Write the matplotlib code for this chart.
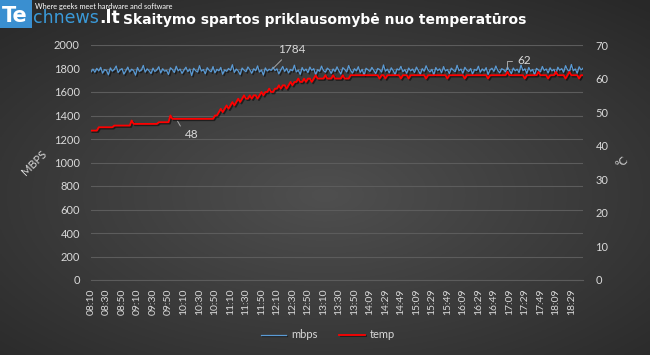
import numpy as np
import matplotlib
matplotlib.use("Agg")
import matplotlib.pyplot as plt
import matplotlib.patheffects as pe
from matplotlib.patches import Rectangle

# ── data ─────────────────────────────────────────────────────────────────────
time_labels = ["08:10", "08:30", "08:50", "09:10", "09:30", "09:50", "10:10", "10:30",
               "10:50", "11:10", "11:30", "11:50", "12:10", "12:30", "12:50", "13:10",
               "13:30", "13:50", "14:09", "14:29", "14:49", "15:09", "15:29", "15:49",
               "16:09", "16:29", "16:49", "17:09", "17:29", "17:49", "18:09", "18:29"]
points_per_label = 8

mbps = [
    1772, 1795, 1768, 1801, 1779, 1810, 1760, 1790, 1783, 1746, 1805, 1777, 1792, 1821, 1765, 1788,
    1799, 1752, 1783, 1812, 1770, 1794, 1781, 1743, 1808, 1775, 1786, 1826, 1769, 1797, 1780, 1757,
    1803, 1774, 1789, 1815, 1762, 1798, 1777, 1784, 1749, 1806, 1791, 1766, 1819, 1780, 1795, 1758,
    1787, 1811, 1773, 1796, 1740, 1802, 1782, 1769, 1824, 1778, 1791, 1755, 1807, 1785, 1771, 1816,
    1763, 1793, 1780, 1809, 1751, 1788, 1776, 1800, 1784, 1832, 1767, 1795, 1779, 1748, 1804, 1786,
    1772, 1813, 1790, 1759, 1798, 1781, 1822, 1770, 1787, 1744, 1805, 1778, 1794, 1784, 1811, 1783,
    1797, 1754, 1789, 1817, 1775, 1801, 1762, 1792, 1780, 1828, 1771, 1786, 1750, 1808, 1779, 1795,
    1765, 1812, 1784, 1799, 1747, 1790, 1776, 1820, 1783, 1768, 1803, 1789, 1758, 1796, 1774, 1814,
    1781, 1752, 1807, 1792, 1770, 1825, 1785, 1761, 1798, 1779, 1815, 1767, 1793, 1742, 1802, 1788,
    1775, 1809, 1784, 1756, 1800, 1791, 1769, 1830, 1777, 1794, 1763, 1806, 1782, 1748, 1797, 1786,
    1818, 1773, 1790, 1759, 1804, 1780, 1795, 1766, 1812, 1784, 1751, 1799, 1776, 1823, 1788, 1770,
    1793, 1745, 1808, 1782, 1797, 1764, 1816, 1779, 1791, 1757, 1803, 1786, 1772, 1827, 1781, 1795,
    1760, 1810, 1787, 1774, 1800, 1753, 1792, 1783, 1819, 1768, 1796, 1778, 1807, 1749, 1789, 1802,
    1775, 1821, 1784, 1763, 1798, 1790, 1771, 1813, 1786, 1755, 1804, 1780, 1794, 1766, 1829, 1782,
    1797, 1758, 1809, 1776, 1792, 1745, 1801, 1787, 1770, 1817, 1783, 1796, 1762, 1806, 1779, 1793,
    1752, 1811, 1785, 1799, 1768, 1824, 1789, 1774, 1834, 1781, 1796, 1760, 1815, 1787, 1803,
]

temp = (
    [44.5] * 4 + [45.5] * 8 + [46] * 9
    + [47.5] + [46.5] * 13 + [47] * 6 + [49] + [48] * 22
    + [49, 49, 50, 51, 50, 51, 52, 51,
       52, 53, 52, 53, 54, 53, 54, 55,
       54, 54, 55, 54, 55, 55, 54, 55,
       56, 55, 56, 56, 57, 56, 56, 57,
       57, 58, 57, 58, 58, 57, 58, 59,
       58, 59, 59, 60, 59, 59, 60, 59,
       60, 60, 59, 60, 61, 60, 60, 60,
       60, 61, 60, 60, 60, 61, 60, 60,
       60, 60, 61, 60, 60, 60, 61, 61]
    + [61, 61, 61, 61, 61, 61, 61, 61, 61, 61, 61, 61, 61, 60, 61, 61, 60,
       61, 61, 61, 61, 61, 61, 61, 60, 61, 61, 61, 60, 61, 61, 61, 61, 61,
       61, 61, 61, 60, 61, 61, 61, 61, 61, 61, 61, 61, 61, 61, 60, 61, 61,
       61, 61, 61, 61, 61, 61, 60, 61, 61, 61, 61, 61, 61, 61, 61, 61, 61,
       61, 60, 61, 61, 61, 61, 61, 61, 61, 61, 61, 62, 61, 61, 61, 61, 61,
       61, 61, 61, 60, 61, 61, 61, 61, 61, 61, 62, 61, 61, 61, 61, 60, 61,
       61, 61, 62, 61, 61, 61, 61, 60, 61, 62, 61, 61, 61, 61, 60, 61, 61]
)
assert len(mbps) == len(temp), (len(mbps), len(temp))

mbps_label_idx = 93
temp_label_idx = [44, 215]

# ── style ─────────────────────────────────────────────────────────────────────
plt.rcParams["font.family"] = ["Lato", "DejaVu Sans"]
txt = "#d9d9d9"
grid_col = "#5c5c5c"
blue = "#5b9bd5"
red = "#ff0000"
W, H = 650, 355

fig = plt.figure(figsize=(6.5, 3.55), dpi=100)

# dark radial-ish background
bg = fig.add_axes([0, 0, 1, 1], zorder=-10)
gx, gy = np.meshgrid(np.linspace(0, 1, 300), np.linspace(0, 1, 200))
r = np.sqrt(((gx - 0.5) / 0.75) ** 2 + ((gy - 0.45) / 0.7) ** 2)
shade = np.clip(0.31 - 0.15 * r, 0.16, 0.31)
bg.imshow(np.dstack([shade] * 3), extent=[0, 1, 0, 1], aspect="auto", origin="lower")
bg.set_axis_off()

ax = fig.add_axes([91 / W, 1 - 280 / H, (583 - 91) / W, (280 - 45) / H])
ax.patch.set_alpha(0)
ax2 = ax.twinx()

x = np.arange(len(mbps))
shadow = [pe.SimpleLineShadow(offset=(1, -1), shadow_color="black", alpha=0.5), pe.Normal()]
l1, = ax.plot(x, mbps, color=blue, lw=0.9, path_effects=shadow, label="mbps")
l2, = ax2.plot(x, temp, color=red, lw=1.3, path_effects=shadow, label="temp")

ax.set_xlim(0, len(mbps) - 1)
ax.set_ylim(0, 2000)
ax.set_yticks(range(0, 2001, 200))
ax2.set_ylim(0, 70)
ax2.set_yticks(range(0, 71, 10))
ax.set_xticks(np.arange(len(time_labels)) * points_per_label)
ax.set_xticklabels(time_labels, rotation=90)

ax.grid(axis="y", color=grid_col, lw=0.8)
ax.set_axisbelow(True)
for a in (ax, ax2):
    for s in a.spines.values():
        s.set_visible(False)
ax.spines["bottom"].set_visible(True)
ax.spines["bottom"].set_color(grid_col)

ax.tick_params(axis="x", length=0, pad=6, labelsize=7.5, labelcolor=txt)
ax.tick_params(axis="y", length=0, pad=8, labelsize=8, labelcolor=txt)
ax2.tick_params(axis="y", length=0, pad=9, labelsize=8, labelcolor=txt)

# axis titles (rotated like the original)
fig.text(34 / W, 1 - 163 / H, "MBPS", rotation=45, ha="center", va="center",
         color=txt, fontsize=8)
fig.text(622 / W, 1 - 162 / H, "°C", rotation=45, ha="center", va="center",
         color=txt, fontsize=8)

# data labels with leader lines
lead = dict(arrowstyle="-", color="#a6a6a6", lw=0.7)
ax.annotate(str(mbps[mbps_label_idx]), (mbps_label_idx, mbps[mbps_label_idx]),
            xytext=(5, 15), textcoords="offset points", color=txt, fontsize=8.5,
            ha="left", va="center", arrowprops=lead)
ax2.annotate(f"{temp[temp_label_idx[0]]:g}", (temp_label_idx[0], temp[temp_label_idx[0]]),
             xytext=(6, -11), textcoords="offset points", color=txt, fontsize=8.5,
             ha="left", va="center",
             arrowprops=dict(lead, connectionstyle="angle,angleA=0,angleB=-60,rad=0"))
ax2.annotate(f"{temp[temp_label_idx[1]]:g}", (temp_label_idx[1], temp[temp_label_idx[1]]),
             xytext=(7, 8), textcoords="offset points", color=txt, fontsize=8.5,
             ha="left", va="center",
             arrowprops=dict(lead, connectionstyle="angle,angleA=0,angleB=90,rad=0"))

# legend
fig.legend(handles=[l1, l2], loc="center", bbox_to_anchor=(328 / W, 1 - 335 / H),
           ncol=2, frameon=False, fontsize=8, labelcolor=txt, handlelength=2.3,
           columnspacing=1.9, handletextpad=0.5)

# title
fig.text(325 / W, 1 - 20 / H, "Skaitymo spartos priklausomybė nuo temperatūros",
         ha="center", va="center", color="white", fontsize=10, fontweight="bold",
         family=["DejaVu Sans"])

# site logo
fig.patches.append(Rectangle((0, 1 - 28 / H), 32 / W, 28 / H, transform=fig.transFigure,
                             facecolor="#3a8fd0", edgecolor="none"))
fig.text(2 / W, 1 - 16 / H, "Te", color="white", fontsize=15, fontweight="bold",
         ha="left", va="center", family=["DejaVu Sans"])
fig.text(33 / W, 1 - 18 / H, "chnews", color="#3a9ad9", fontsize=12.5,
         ha="left", va="center", family=["DejaVu Sans"])
fig.text(99 / W, 1 - 18 / H, ".lt", color="white", fontsize=12.5, fontweight="bold",
         ha="left", va="center", family=["DejaVu Sans"])
fig.text(35 / W, 1 - 6 / H, "Where geeks meet hardware and software", color="white",
         fontsize=5.3, ha="left", va="center")

fig.savefig("out.png", dpi=100)
